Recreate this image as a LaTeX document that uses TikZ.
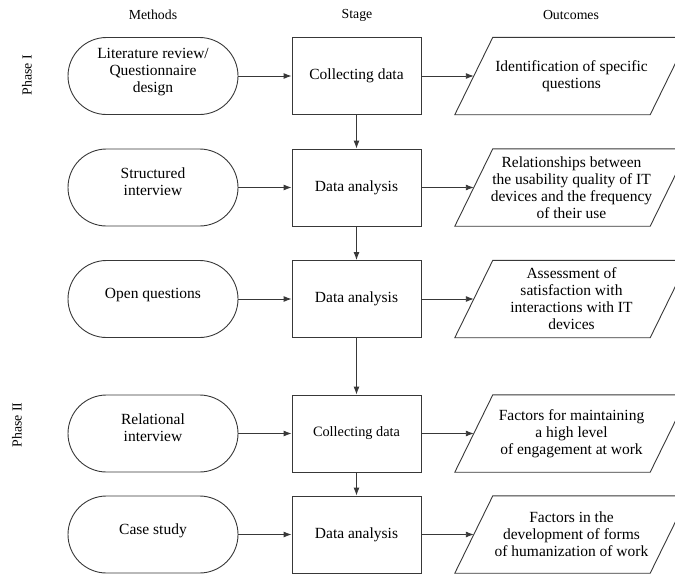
\documentclass[tikz,border=0pt]{standalone}
\usepackage{fontspec}
\setmainfont{Liberation Serif}
\usetikzlibrary{arrows.meta}
\newcommand{\mainfnt}{\fontsize{15.5}{17}\selectfont}
\newcommand{\smallfnt}{\fontsize{14.3}{17}\selectfont}
\newcommand{\headfnt}{\fontsize{13.8}{16}\selectfont}
\begin{document}
\begin{tikzpicture}[x=1pt,y=-1pt,
  line/.style={draw=black!78,line width=0.9pt},
  term/.style={line, rectangle, rounded corners=38.5pt, minimum width=170pt, minimum height=77pt, align=center, inner sep=0pt, font=\mainfnt, text depth=11pt},
  stagebox/.style={line, rectangle, minimum width=129pt, minimum height=77pt, align=center, inner sep=0pt, font=\mainfnt},
  outbox/.style={rectangle, minimum width=195pt, minimum height=77pt, align=center, inner sep=0pt, font=\mainfnt},
  para/.style={line},
  arr/.style={line, -{Latex[length=8pt,width=6pt]}},
  head/.style={font=\headfnt, inner sep=0pt},
]
\useasboundingbox (0,0) rectangle (675,574);
\clip (0,0) rectangle (675,574);

% headers
\node[head] (hm) at (153,15) {Methods};
\node[head] (hs) at (357,15) {Stage};
\node[head] (ho) at (571,15) {Outcomes};
\node[head, rotate=90] (ph1) at (27,75) {Phase I};
\node[head, rotate=90] (ph2) at (17,425) {Phase II};

% row 1
\node[term] (m1) at (153,76) {Literature review/\\Questionnaire\\design};
\node[stagebox] (s1) at (356.5,76) {Collecting data};
\node[outbox] (p1) at (571.5,76) {Identification of specific\\questions};
% row 2
\node[term] (m2) at (153,187.5) {Structured\\interview};
\node[stagebox] (s2) at (356.5,187.5) {Data analysis};
\node[outbox] (p2) at (571.5,187.5) {Relationships between\\the usability quality of IT\\devices and the frequency\\of their use};
% row 3
\node[term] (m3) at (153,299) {Open questions};
\node[stagebox] (s3) at (356.5,299) {Data analysis};
\node[outbox] (p3) at (571.5,299) {Assessment of\\satisfaction with\\interactions with IT\\devices};
% row 4
\node[term] (m4) at (153,433.5) {Relational\\interview};
\node[stagebox, font=\smallfnt] (s4) at (356.5,433.5) {Collecting data};
\node[outbox] (p4) at (571.5,433.5) {Factors for maintaining\\a high level\\of engagement at work};
% row 5
\node[term] (m5) at (153,534.5) {Case study};
\node[stagebox] (s5) at (356.5,534.5) {Data analysis};
\node[outbox] (p5) at (571.5,534.5) {Factors in the\\development of forms\\of humanization of work};

% parallelograms
\foreach \p in {p1,p2,p3,p4,p5}{
  \draw[para] ([xshift=19pt]\p.north west) -- ([xshift=19pt]\p.north east)
     -- ([xshift=-19pt]\p.south east) -- ([xshift=-19pt]\p.south west) -- cycle;
}

% connectors
\foreach \i in {1,...,5}{
  \draw[arr] (m\i) -- (s\i);
  \draw[arr] (s\i) -- (p\i);
}
\draw[arr] (s1) -- (s2);
\draw[arr] (s2) -- (s3);
\draw[arr] (s3) -- (s4);
\draw[arr] (s4) -- (s5);
\end{tikzpicture}
\end{document}
